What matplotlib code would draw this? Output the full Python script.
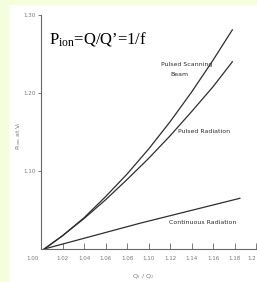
import matplotlib
matplotlib.use('Agg')
import matplotlib.pyplot as plt
import matplotlib.transforms as mtransforms
from matplotlib.patches import Rectangle

plt.rcParams['mathtext.fontset'] = 'custom'
plt.rcParams['mathtext.rm'] = 'Liberation Serif'
plt.rcParams['mathtext.it'] = 'Liberation Serif:italic'

# data
curve_x = [1.003, 1.020, 1.040, 1.060, 1.080, 1.100, 1.120, 1.140, 1.160, 1.178]
scan_y = [1.000, 1.017, 1.040, 1.067, 1.096, 1.128, 1.163, 1.201, 1.242, 1.281]
pulsed_y = [1.000, 1.017, 1.039, 1.063, 1.089, 1.116, 1.145, 1.176, 1.208, 1.240]
cont_x = [1.003, 1.092, 1.185]
cont_y = [1.000, 1.033, 1.065]

x_ticks = [1.00, 1.02, 1.04, 1.06, 1.08, 1.10, 1.12, 1.14, 1.16, 1.18, 1.20]
x_labels = ['1.00', '1.02', '1.04', '1.06', '1.08', '1.10', '1.12', '1.14', '1.16', '1.18', '1.2']
y_ticks = [1.10, 1.20, 1.30]
y_labels = ['1.10', '1.20', '1.30']

INK = '#2e2e2e'
GREY = '#777777'

fig = plt.figure(figsize=(2.57, 2.82), dpi=100, facecolor='#f4fedc')
# white page area inside the pale frame
fig.patches.append(Rectangle((9 / 257, 0), 1, (282 - 5) / 282, transform=fig.transFigure,
                             facecolor='white', edgecolor='none', zorder=-5))

ax = fig.add_axes([41 / 257, 33 / 282, (256 - 41) / 257, (249 - 15) / 282])
ax.set_facecolor('none')
ax.set_xlim(1.00, 1.20)
ax.set_ylim(1.00, 1.30)

for s in ['top', 'right']:
    ax.spines[s].set_visible(False)
for s in ['left', 'bottom']:
    ax.spines[s].set_color('#666666')
    ax.spines[s].set_linewidth(0.8)

ax.set_xticks(x_ticks)
ax.set_xticklabels(x_labels)
ax.set_yticks(y_ticks)
ax.set_yticklabels(y_labels)
ax.tick_params(axis='x', direction='in', length=4, width=0.6, color='#666666',
               labelsize=4, labelcolor=GREY, pad=5)
ax.tick_params(axis='y', direction='out', length=2, width=0.6, color='#666666',
               labelsize=4, labelcolor=GREY, pad=2)
# first x label sits left of the corner, last one is clipped by the page edge
lab0 = ax.get_xticklabels()[0]
lab0.set_transform(lab0.get_transform() + mtransforms.ScaledTranslation(-9 / 100, 0, fig.dpi_scale_trans))
ax.xaxis.get_major_ticks()[0].tick1line.set_visible(False)
ax.get_xticklabels()[-1].set_ha('right')

ax.plot(curve_x, scan_y, color=INK, lw=0.9)
ax.plot(curve_x, pulsed_y, color=INK, lw=0.9)
ax.plot(cont_x, cont_y, color=INK, lw=0.9)

ax.text(1.112, 1.237, 'Pulsed Scanning', fontsize=4.5, color=INK, ha='left', va='center')
ax.text(1.120, 1.224, 'Beam', fontsize=4.5, color=INK, ha='left', va='center')
ax.text(1.127, 1.151, 'Pulsed Radiation', fontsize=4.5, color=INK, ha='left', va='center')
ax.text(1.119, 1.034, 'Continuous Radiation', fontsize=4.5, color=INK, ha='left', va='center')

ax.set_xlabel(r'Q$_{1}$ / Q$_{2}$', fontsize=4.5, color=GREY)
ax.xaxis.set_label_coords((143 - 41) / 215, -23 / 234)
ax.set_ylabel(r'P$_{\rm ions}$ at V$_{\rm f}$', fontsize=4.5, color=GREY)
ax.yaxis.set_label_coords(-18 / 215, (249 - 135) / 234)

fig.text(49 / 257, 1 - 43 / 282, r'P$_{\mathrm{ion}}$=Q/Q’=1/f', fontsize=12,
         family='Liberation Serif', color='black', ha='left', va='baseline')

fig.savefig('out.png', dpi=100, facecolor=fig.get_facecolor())
